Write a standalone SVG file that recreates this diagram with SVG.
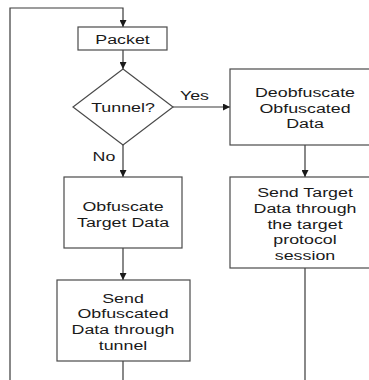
<svg xmlns="http://www.w3.org/2000/svg" width="369" height="380" viewBox="0 0 369 380">
  <style>
    .box { fill: #ffffff; stroke: #4a4a4a; stroke-width: 1.2; }
    .wire { fill: none; stroke: #3a3a3a; stroke-width: 1.2; }
    .lbl { font-family: "Liberation Sans", Arial, sans-serif; font-size: 13.5px; fill: #1a1a1a; text-anchor: middle; }
  </style>
  <defs>
    <marker id="arrow" viewBox="0 0 10 10" refX="10" refY="5" markerWidth="7" markerHeight="7" markerUnits="userSpaceOnUse" orient="auto">
      <path d="M0,0 L10,5 L0,10 z" fill="#1a1a1a"/>
    </marker>
  </defs>
  <rect width="369" height="380" fill="#ffffff"/>

  <g id="connectors">
    <!-- loop back to the packet entry -->
    <polyline class="wire" points="10,380 10,8 123,8 123,27" marker-end="url(#arrow)"/>
    <line class="wire" x1="123" y1="50" x2="123" y2="69" marker-end="url(#arrow)"/>
    <line class="wire" x1="173" y1="107" x2="230" y2="107" marker-end="url(#arrow)"/>
    <line class="wire" x1="123" y1="145" x2="123" y2="177" marker-end="url(#arrow)"/>
    <line class="wire" x1="305" y1="145" x2="305" y2="177" marker-end="url(#arrow)"/>
    <line class="wire" x1="123" y1="248" x2="123" y2="280" marker-end="url(#arrow)"/>
    <line class="wire" x1="123" y1="361" x2="123" y2="380"/>
    <line class="wire" x1="305" y1="268" x2="305" y2="380"/>
    <text class="lbl" transform="translate(194.5,99.5) scale(1.32,1)">Yes</text>
    <text class="lbl" transform="translate(104,161) scale(1.32,1)">No</text>
  </g>

  <g id="packet">
    <rect class="box" x="78" y="27" width="89" height="23"/>
    <text class="lbl" transform="translate(122.5,43.5) scale(1.32,1)">Packet</text>
  </g>

  <g id="tunnel">
    <polygon class="box" points="123,69 173,107 123,145 73,107"/>
    <text class="lbl" transform="translate(123,112) scale(1.32,1)">Tunnel?</text>
  </g>

  <g id="deobfuscate">
    <rect class="box" x="230" y="69" width="150" height="76"/>
    <text class="lbl" transform="translate(305,97) scale(1.32,1)">Deobfuscate</text>
    <text class="lbl" transform="translate(305,112.7) scale(1.32,1)">Obfuscated</text>
    <text class="lbl" transform="translate(305,128.4) scale(1.32,1)">Data</text>
  </g>

  <g id="obfuscate">
    <rect class="box" x="64" y="177" width="118" height="71"/>
    <text class="lbl" transform="translate(123,211) scale(1.32,1)">Obfuscate</text>
    <text class="lbl" transform="translate(123,226.7) scale(1.32,1)">Target Data</text>
  </g>

  <g id="send-target">
    <rect class="box" x="230" y="177" width="150" height="91"/>
    <text class="lbl" transform="translate(305,197.1) scale(1.32,1)">Send Target</text>
    <text class="lbl" transform="translate(305,212.8) scale(1.32,1)">Data through</text>
    <text class="lbl" transform="translate(305,228.5) scale(1.32,1)">the target</text>
    <text class="lbl" transform="translate(305,244.2) scale(1.32,1)">protocol</text>
    <text class="lbl" transform="translate(305,259.9) scale(1.32,1)">session</text>
  </g>

  <g id="send-tunnel">
    <rect class="box" x="57" y="280" width="133" height="81"/>
    <text class="lbl" transform="translate(123,302.7) scale(1.32,1)">Send</text>
    <text class="lbl" transform="translate(123,318.4) scale(1.32,1)">Obfuscated</text>
    <text class="lbl" transform="translate(123,334.1) scale(1.32,1)">Data through</text>
    <text class="lbl" transform="translate(123,349.8) scale(1.32,1)">tunnel</text>
  </g>
</svg>
